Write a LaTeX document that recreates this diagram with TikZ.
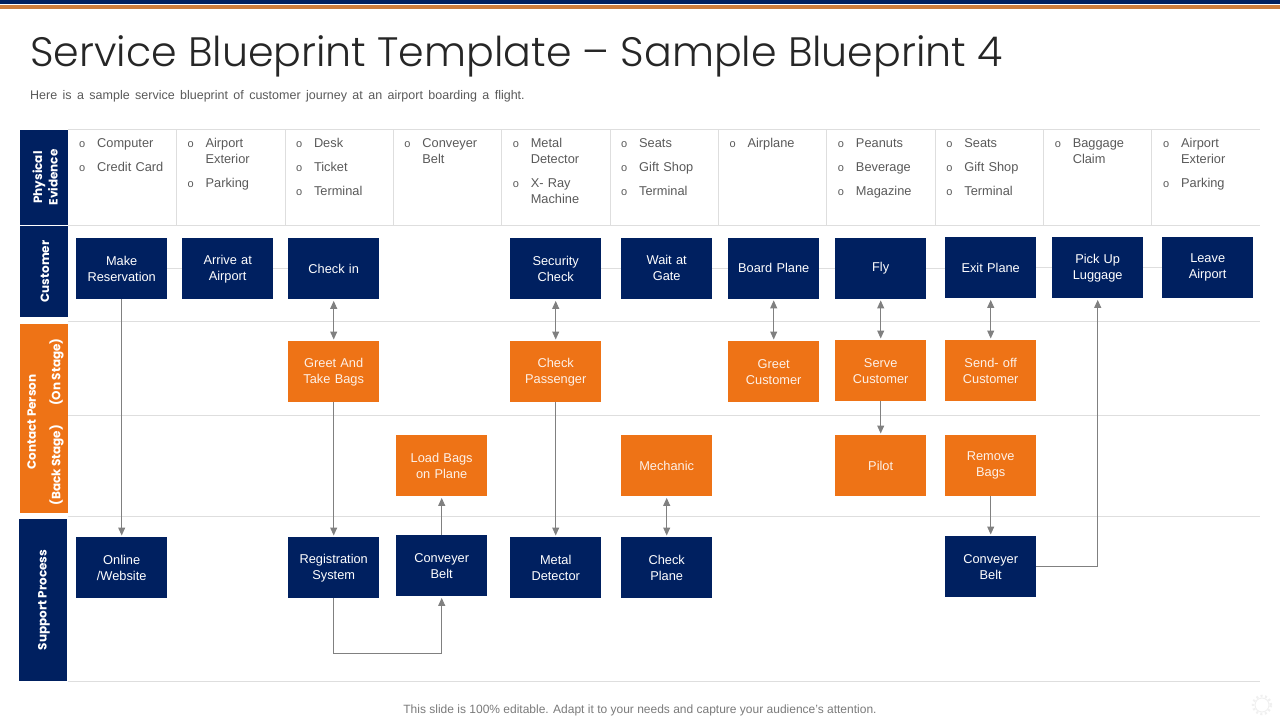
\documentclass[tikz,border=0pt]{standalone}
\usepackage{fontspec}
\setmainfont{Liberation Sans}
\newfontfamily\headfont{Poppins}
\newfontfamily\titlefont{Poppins Light}
\usepackage{xcolor}
\usetikzlibrary{matrix,arrows.meta}

\definecolor{navy}{RGB}{0,32,96}
\definecolor{oran}{RGB}{238,115,22}
\definecolor{stripe}{RGB}{205,125,60}
\definecolor{rule}{RGB}{222,222,222}
\definecolor{link}{RGB}{128,128,128}
\definecolor{ink}{RGB}{89,89,89}

\tikzset{
	box/.style={fill=navy,text=white,text width=91pt,minimum height=61pt,inner sep=0pt,anchor=center,align=center,font=\fontsize{12.8}{16}\selectfont},
	act/.style={fill=oran,text=white!90!oran},
	band/.style={inner sep=0pt,text=white,align=center,font=\headfont\bfseries\fontsize{12}{15.5}\selectfont},
	cell/.style={inner sep=0pt,anchor=north west,text width=98pt,align=left,text=ink,font=\fontsize{12.8}{16}\selectfont},
	arrow/.style={draw=link,line width=1pt,-{Triangle[length=8pt,width=7pt]},shorten >=1.5pt},
	both/.style={draw=link,line width=1pt,{Triangle[length=8pt,width=7pt]}-{Triangle[length=8pt,width=7pt]},shorten >=1.5pt,shorten <=1.5pt},
	grid/.style={draw=rule,line width=1pt}
}
\newcommand{\bul}{\makebox[18pt][l]{\fontsize{11}{11}\selectfont o}}
\newcommand{\ind}{\hspace*{18pt}}

\begin{document}
\begin{tikzpicture}[x=1pt,y=-1pt]
		\useasboundingbox (0,0) rectangle (1280,720);
		
		\fill[navy] (0,0) rectangle (1280,4);
		\fill[stripe] (0,5) rectangle (1280,9);
		
		\node (title) [anchor=west,inner sep=0pt,text=black!85,font=\titlefont\fontsize{41.1}{42}\selectfont] at (30,56) {Service Blueprint Template – Sample Blueprint 4};
		\node (sub) [anchor=west,inner sep=0pt,text=ink,font=\fontsize{12.5}{14}\selectfont] at (30,96.5) {\spaceskip=5.4pt Here is a sample service blueprint of customer journey at an airport boarding a flight.};
		
		\draw[grid] (68,129) -- (1260,129);
		\draw[grid] (68,225) -- (1260,225);
		\draw[grid] (68,321) -- (1260,321);
		\draw[grid] (68,415) -- (1260,415);
		\draw[grid] (68,516) -- (1260,516);
		\draw[grid] (68,681) -- (1260,681);
		
		\draw[grid] (176.5,129) -- (176.5,225);
		\draw[grid] (285,129) -- (285,225);
		\draw[grid] (393,129) -- (393,225);
		\draw[grid] (501.5,129) -- (501.5,225);
		\draw[grid] (610,129) -- (610,225);
		\draw[grid] (718,129) -- (718,225);
		\draw[grid] (826.5,129) -- (826.5,225);
		\draw[grid] (935,129) -- (935,225);
		\draw[grid] (1043,129) -- (1043,225);
		\draw[grid] (1151.5,129) -- (1151.5,225);
		
		\fill[navy] (20,130) rectangle (68,225);
		\fill[navy] (20,226) rectangle (68,317);
		\fill[oran] (20,324) rectangle (68,513);
		\fill[navy] (19,519) rectangle (67,681);
		
		\node (physical) [band,rotate=90] at (45,177.5) {Physical\\Evidence};
		\node (customer) [band,rotate=90] at (45,271.5) {Customer};
		\node (contact) [band,rotate=90] at (45.5,422) {Contact Person\\[9pt](Back Stage)\hspace{19pt}(On Stage)};
		\node (support) [band,rotate=90] at (44,600) {Support Process};
		
		\matrix (E) [matrix of nodes, anchor=north west, inner sep=0pt, column sep=10.4pt, nodes={cell}] at (79,138) {
			{\bul Computer\\[8pt]\bul Credit Card} &
			{\bul Airport\\\ind Exterior\\[8pt]\bul Parking} &
			{\bul Desk\\[8pt]\bul Ticket\\[8pt]\bul Terminal} &
			{\bul Conveyer\\\ind Belt} &
			{\bul Metal\\\ind Detector\\[8pt]\bul X- Ray\\\ind Machine} &
			{\bul Seats\\[8pt]\bul Gift Shop\\[8pt]\bul Terminal} &
			{\bul Airplane} &
			{\bul Peanuts\\[8pt]\bul Beverage\\[8pt]\bul Magazine} &
			{\bul Seats\\[8pt]\bul Gift Shop\\[8pt]\bul Terminal} &
			{\bul Baggage\\\ind Claim} &
			{\bul Airport\\\ind Exterior\\[8pt]\bul Parking} \\
		};
		
		\matrix (M) [matrix of nodes, anchor=north west, inner sep=0pt, row sep=33pt, column sep=15pt, nodes={box}] at (76,237) {
			{Make\\Reservation} & {Arrive at\\Airport} & Check in &[2pt] &[8pt] {Security\\Check} &[5pt] |[yshift=0.5pt]| {Wait at\\Gate} &[1pt] |[yshift=0.5pt]| Board Plane &[1pt] |[yshift=0.5pt]| Fly &[4pt] |[yshift=1pt]| Exit Plane &[1pt] |[yshift=1pt]| {Pick Up\\Luggage} &[4pt] |[yshift=1pt]| {Leave\\Airport} \\[8pt]
			& & |[act]| {Greet And\\Take Bags} & & |[act]| {Check\\Passenger} & & |[act]| {Greet\\Customer} & |[act,yshift=1pt]| {Serve\\Customer} & |[act,yshift=1pt]| {Send- off\\Customer} & & \\
			& & & |[act]| {Load Bags\\on Plane} & & |[act]| Mechanic & & |[act]| Pilot & |[act]| {Remove\\Bags} & & \\[6pt]
			{Online\\/Website} & & {Registration\\System} & |[yshift=2pt]| {Conveyer\\Belt} & {Metal\\Detector} & {Check\\Plane} & & & |[yshift=1pt]| {Conveyer\\Belt} & & \\
		};
		
		\draw[grid] (M-1-1.east) -- (M-1-1.east -| M-1-2.west);
		\draw[grid] (M-1-2.east) -- (M-1-2.east -| M-1-3.west);
		\draw[grid] (M-1-5.east) -- (M-1-5.east -| M-1-6.west);
		\draw[grid] (M-1-6.east) -- (M-1-6.east -| M-1-7.west);
		\draw[grid] (M-1-7.east) -- (M-1-7.east -| M-1-8.west);
		\draw[grid] (M-1-8.east) -- (M-1-8.east -| M-1-9.west);
		\draw[grid] (M-1-9.east) -- (M-1-9.east -| M-1-10.west);
		\draw[grid] (M-1-10.east) -- (M-1-10.east -| M-1-11.west);
		
		\coordinate (L) at (M-4-4.south |- 0,653);
		
		\draw[arrow] (M-1-1)--(M-4-1);
		\draw[both] (M-1-3)--(M-2-3);
		\draw[arrow] (M-2-3)--(M-4-3);
		\draw[arrow] (M-4-3.south) |- (L) -- (M-4-4.south);
		\draw[arrow] (M-4-4)--(M-3-4);
		\draw[both] (M-1-5)--(M-2-5);
		\draw[arrow] (M-2-5)--(M-4-5);
		\draw[both] (M-3-6)--(M-4-6);
		\draw[both] (M-1-7)--(M-2-7);
		\draw[both] (M-1-8)--(M-2-8);
		\draw[arrow] (M-2-8)--(M-3-8);
		\draw[both] (M-1-9)--(M-2-9);
		\draw[arrow] (M-3-9)--(M-4-9);
		\draw[arrow] (M-4-9.east) -| (M-1-10.south);
		
		\node (foot) [inner sep=0pt,text=ink!80,font=\fontsize{12}{14}\selectfont] at (640,710) {This slide is 100\% editable. Adapt it to your needs and capture your audience's attention.};
		
		\node (gear) [circle,draw=black!6,line width=1pt,minimum size=14pt,inner sep=0pt] at (1262,705) {};
		\draw[black!6,line width=2.5pt,dash pattern=on 2pt off 2.5pt] (gear) circle (9pt);
	\end{tikzpicture}
\end{document}
